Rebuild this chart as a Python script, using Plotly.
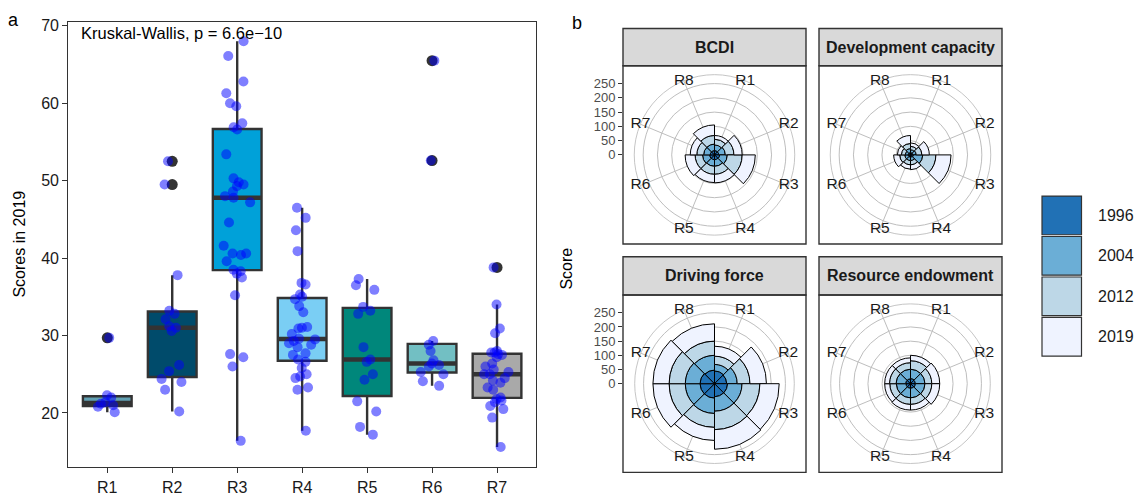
import numpy as np
import plotly.graph_objects as go

W, H = 1135, 496
FONT = "Liberation Sans, Arial, sans-serif"
EDGE = "#333333"
GRID = "#BEBEBE"

# ---------------- Panel a: scores in 2019 ----------------
regions_a = ["R1", "R2", "R3", "R4", "R5", "R6", "R7"]
scores_r1 = [29.7, 22.3, 22.0, 21.4, 21.2, 21.0, 20.8, 20.1]
scores_r2 = [52.5, 49.5, 37.8, 33.2, 32.8, 32.1, 31.2, 31.0, 30.6, 26.2, 25.4, 24.4, 24.0, 23.0, 20.2]
scores_r3 = [68.0, 66.1, 62.8, 61.3, 60.0, 59.6, 57.4, 56.9, 56.6, 53.4, 50.3, 49.8, 49.5, 49.3, 48.6,
             48.0, 47.8, 47.2, 44.6, 41.6, 40.6, 40.6, 40.4, 39.6, 38.3, 38.5, 38.0, 37.5, 35.2, 27.6,
             27.2, 26.0, 16.4]
scores_r4 = [46.5, 45.2, 43.6, 40.9, 36.8, 36.6, 35.3, 35.0, 34.7, 33.8, 33.0, 31.1, 31.0, 30.9, 30.2,
             29.6, 29.5, 29.3, 29.0, 28.8, 28.5, 27.7, 27.5, 26.9, 26.6, 25.8, 25.0, 24.7, 24.5, 23.3,
             23.0, 17.7]
scores_r5 = [37.3, 36.5, 35.9, 33.7, 33.2, 32.8, 28.5, 26.9, 26.6, 25.0, 24.3, 21.5, 20.2, 18.2, 17.2]
scores_r6 = [65.5, 52.6, 29.3, 28.8, 28.0, 26.8, 26.4, 26.2, 26.0, 25.3, 25.0, 24.1, 23.5]
scores_r7 = [38.8, 34.0, 30.9, 30.3, 28.0, 27.8, 27.8, 27.6, 27.5, 27.2, 26.4, 26.0, 25.6, 25.3, 25.0,
             25.0, 24.5, 24.2, 23.9, 23.3, 23.0, 22.0, 21.8, 21.6, 21.4, 20.9, 20.5, 19.4, 15.6]
score_groups = [scores_r1, scores_r2, scores_r3, scores_r4, scores_r5, scores_r6, scores_r7]
box_colors = ["#62A1B3", "#004B6B", "#00A1D9", "#7ACEF4", "#00877B", "#72BFC3", "#A9A9A9"]
y_ticks_a = [20, 30, 40, 50, 60, 70]
kw_text = "Kruskal-Wallis, p = 6.6e\u221210"

# ---------------- Panel b: polar scores ----------------
regions_b = ["R1", "R2", "R3", "R4", "R5", "R6", "R7", "R8"]
years = ["1996", "2004", "2012", "2019"]
year_colors = ["#2171B5", "#6BAED6", "#BDD7E7", "#EFF3FF"]

bcdi_1996 = [15, 15, 18, 17, 17, 17, 15, 15]
bcdi_2004 = [20, 23, 27, 23, 23, 25, 23, 23]
bcdi_2012 = [20, 30, 52, 28, 28, 26, 24, 30]
bcdi_2019 = [13, 29, 46, 30, 29, 35, 23, 37]

dev_1996 = [8, 8, 10, 8, 8, 8, 8, 8]
dev_2004 = [10, 12, 33, 12, 12, 12, 10, 14]
dev_2012 = [12, 20, 46, 15, 15, 18, 14, 18]
dev_2019 = [12, 26, 53, 17, 15, 21, 14, 28]

drv_1996 = [45, 43, 46, 46, 51, 51, 51, 48]
drv_2004 = [23, 37, 51, 51, 54, 52, 52, 52]
drv_2012 = [29, 45, 63, 65, 49, 57, 57, 50]
drv_2019 = [35, 58, 68, 69, 46, 57, 57, 61]

res_1996 = [18, 17, 17, 16, 16, 16, 17, 17]
res_2004 = [33, 34, 34, 34, 34, 34, 34, 34]
res_2012 = [30, 24, 24, 23, 23, 23, 23, 23]
res_2019 = [19, 28, 28, 20, 20, 18, 17, 17]

radial_ticks = [0, 50, 100, 150, 200, 250]
R_MAX = 250.0              # radial value mapped to 0.40 of the panel
R_OUTER = R_MAX * 0.45 / 0.40  # outer circle, as in ggplot coord_polar

facet_names = ["BCDI", "Development capacity", "Driving force", "Resource endowment"]
facet_data = [
    [bcdi_1996, bcdi_2004, bcdi_2012, bcdi_2019],
    [dev_1996, dev_2004, dev_2012, dev_2019],
    [drv_1996, drv_2004, drv_2012, drv_2019],
    [res_1996, res_2004, res_2012, res_2019],
]
# panel boxes in pixels: x0, x1, strip_top, body_top, body_bottom, show radial axis
facet_boxes = [
    (623, 806, 25, 63, 245, True),
    (819, 1002, 25, 63, 245, False),
    (623, 806, 258, 297, 478, True),
    (819, 1002, 258, 297, 478, False),
]


def px_x(px):
    return px / W


def px_y(py):
    return 1 - py / H


def label(text, x, y, size=16, angle=0, xanchor="center", color="black"):
    return dict(text=text, x=px_x(x), y=px_y(y), xref="paper", yref="paper",
                xanchor=xanchor, yanchor="middle", textangle=angle, showarrow=False,
                font=dict(size=size, color=color))


fig = go.Figure()
layout = {}
shapes = []
annotations = []

# ---------- panel a ----------
BOX_W = 0.75
positions = list(range(1, len(regions_a) + 1))
for pos, vals, col in zip(positions, score_groups, box_colors):
    fig.add_trace(go.Box(
        x=[pos] * len(vals), y=vals, width=BOX_W, fillcolor=col,
        line=dict(color=EDGE, width=2.4), whiskerwidth=0,
        boxpoints="outliers", jitter=0, pointpos=0,
        marker=dict(color=EDGE, size=11, line=dict(width=0)),
        showlegend=False, hoverinfo="skip", xaxis="x", yaxis="y"))

# thicker median bars (computed from the data)
mx, my = [], []
for pos, vals in zip(positions, score_groups):
    med = float(np.median(vals))
    mx += [pos - BOX_W / 2, pos + BOX_W / 2, None]
    my += [med, med, None]
fig.add_trace(go.Scatter(x=mx, y=my, mode="lines", line=dict(color=EDGE, width=4.5),
                         showlegend=False, hoverinfo="skip", xaxis="x", yaxis="y"))

# jittered points on an overlaying axis so they sit above boxes
for pos, vals in zip(positions, score_groups):
    fig.add_trace(go.Box(
        x=[pos] * len(vals), y=vals, width=BOX_W, boxpoints="all", jitter=0.6, pointpos=0,
        fillcolor="rgba(0,0,0,0)", line=dict(color="rgba(0,0,0,0)", width=0),
        marker=dict(color="rgba(0,0,255,0.5)", size=10, line=dict(width=0)),
        showlegend=False, hoverinfo="skip", xaxis="x", yaxis="y2"))

A_X0, A_X1, A_Y0, A_Y1 = 68.3, 536.0, 18.3, 472.7
y_range_a = [13.0, 70.5]
layout["xaxis"] = dict(domain=[px_x(A_X0), px_x(A_X1)], range=[0.4, len(regions_a) + 0.6],
                       tickvals=positions, ticktext=regions_a, ticks="outside", ticklen=5,
                       tickwidth=1.2, tickcolor=EDGE, showline=True, linecolor=EDGE, linewidth=1.3,
                       mirror=True, showgrid=False, zeroline=False,
                       tickfont=dict(size=16, color="#1A1A1A"), anchor="y")
layout["yaxis"] = dict(domain=[px_y(A_Y1), px_y(A_Y0)], range=y_range_a, tickvals=y_ticks_a,
                       ticks="outside", ticklen=5, tickwidth=1.2, tickcolor=EDGE, showline=True,
                       linecolor=EDGE, linewidth=1.3, mirror=True, showgrid=False, zeroline=False,
                       tickfont=dict(size=16, color="#1A1A1A"), anchor="x")
layout["yaxis2"] = dict(domain=[px_y(A_Y1), px_y(A_Y0)], range=y_range_a, overlaying="y",
                        visible=False, anchor="x")

annotations.append(label(kw_text, 79, 30, size=16.5, xanchor="left"))
annotations.append(label("Scores in 2019", 20, (A_Y0 + A_Y1) / 2, angle=-90))
annotations.append(label("a", 13, 16, size=18))
annotations.append(label("b", 577, 19, size=18))
annotations.append(label("Score", 567, 270, angle=-90))

# ---------- panel b ----------
polar_keys = ["polar", "polar2", "polar3", "polar4"]
ax_idx = 3
for p_i, (name, data, box) in enumerate(zip(facet_names, facet_data, facet_boxes)):
    x0, x1, st, bt, bb, show_axis = box
    pk = polar_keys[p_i]
    cx, cy = (x0 + x1) / 2, (bt + bb) / 2
    rad = 0.45 * min(x1 - x0, bb - bt)
    for k, yr in enumerate(years):
        fig.add_trace(go.Barpolar(r=data[k], theta=regions_b, subplot=pk, name=yr,
                                  marker=dict(color=year_colors[k], line=dict(color="black", width=1)),
                                  showlegend=False, hoverinfo="skip"))
    fig.add_trace(go.Scatterpolar(r=[R_OUTER] * len(regions_b), theta=regions_b, mode="text",
                                  text=regions_b, textposition="middle center",
                                  textfont=dict(size=15.5, color="#1A1A1A"), cliponaxis=False,
                                  subplot=pk, showlegend=False, hoverinfo="skip"))
    layout[pk] = dict(
        domain=dict(x=[px_x(cx - rad), px_x(cx + rad)], y=[px_y(cy + rad), px_y(cy - rad)]),
        bgcolor="white", barmode="stack", bargap=0,
        angularaxis=dict(type="category", categoryorder="array", categoryarray=regions_b,
                         direction="clockwise", rotation=90 - 180 / len(regions_b),
                         showticklabels=False, ticks="", showgrid=True, gridcolor=GRID,
                         gridwidth=0.9, showline=True, linecolor=GRID, linewidth=0.9,
                         layer="below traces"),
        radialaxis=dict(range=[0, R_OUTER], tickvals=radial_ticks, showticklabels=False,
                        ticks="", showline=False, showgrid=True, gridcolor=GRID, gridwidth=0.9,
                        layer="below traces"),
    )
    if show_axis:
        layout[f"xaxis{ax_idx}"] = dict(domain=[px_x(x0), px_x(x1)], range=[0, 1], visible=False,
                                        anchor=f"y{ax_idx}")
        layout[f"yaxis{ax_idx}"] = dict(domain=[px_y(cy + rad), px_y(cy - rad)],
                                        range=[-R_OUTER, R_OUTER], anchor=f"x{ax_idx}",
                                        tickvals=radial_ticks, ticks="outside", ticklen=4,
                                        tickwidth=1.2, tickcolor=EDGE, showline=False,
                                        showgrid=False, zeroline=False,
                                        tickfont=dict(size=13, color="#4D4D4D"))
        fig.add_trace(go.Scatter(x=[None], y=[None], xaxis=f"x{ax_idx}", yaxis=f"y{ax_idx}",
                                 showlegend=False, hoverinfo="skip"))
        ax_idx += 1
    # strip and panel border
    shapes.append(dict(type="rect", xref="paper", yref="paper", x0=px_x(x0), x1=px_x(x1),
                       y0=px_y(bt), y1=px_y(st), fillcolor="#D9D9D9",
                       line=dict(color=EDGE, width=1.4), layer="above"))
    shapes.append(dict(type="rect", xref="paper", yref="paper", x0=px_x(x0), x1=px_x(x1),
                       y0=px_y(bb), y1=px_y(bt), fillcolor="rgba(0,0,0,0)",
                       line=dict(color=EDGE, width=1.4), layer="above"))
    annotations.append(label(f"<b>{name}</b>", cx, (st + bt) / 2, size=16, color="#1A1A1A"))

# ---------- legend ----------
LEG_X0, LEG_KEY, LEG_STEP, LEG_TOP = 1042, 39.5, 41.3, 196
for k, (yr, col) in enumerate(zip(years, year_colors)):
    top = LEG_TOP + k * LEG_STEP
    shapes.append(dict(type="rect", xref="paper", yref="paper", x0=px_x(LEG_X0),
                       x1=px_x(LEG_X0 + LEG_KEY), y0=px_y(top + LEG_KEY), y1=px_y(top),
                       fillcolor=col, line=dict(color=EDGE, width=1.2)))
    annotations.append(label(yr, LEG_X0 + LEG_KEY + 14, top + LEG_KEY / 2, xanchor="left",
                             color="#1A1A1A"))

fig.update_layout(
    width=W, height=H, margin=dict(l=0, r=0, t=0, b=0, pad=0),
    paper_bgcolor="white", plot_bgcolor="white", boxmode="overlay",
    font=dict(family=FONT, size=15, color="#1A1A1A"),
    shapes=shapes, annotations=annotations, showlegend=False,
    **layout,
)

fig.write_html("out.html", config={"displayModeBar": False},
               post_script="document.body.style.margin='0';")
